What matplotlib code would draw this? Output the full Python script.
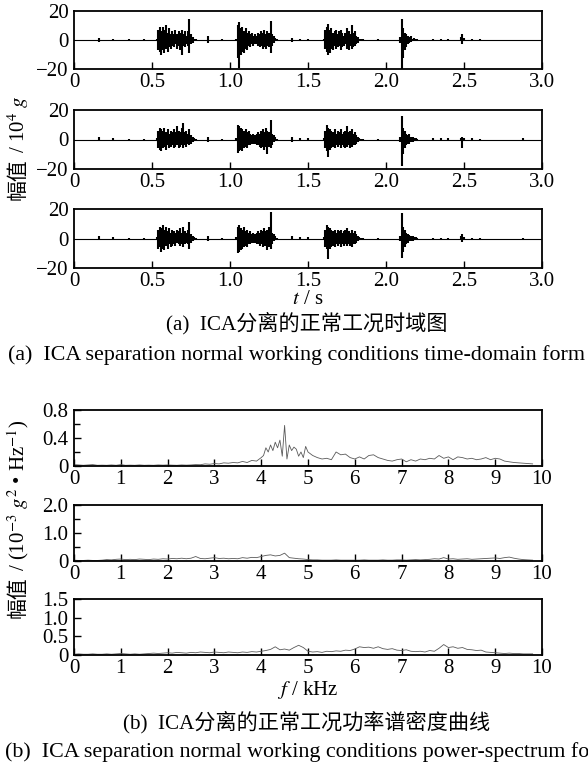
import numpy as np
import matplotlib
matplotlib.use("Agg")
import matplotlib.pyplot as plt
from matplotlib.ticker import FixedLocator

plt.rcParams['font.family'] = ['Liberation Serif', 'Noto Sans CJK SC']
plt.rcParams['mathtext.fontset'] = 'stix'
plt.rcParams['axes.unicode_minus'] = True

# ---------------- time-domain envelope data (unit: 10^4 g) ----------------
t_env = np.concatenate([
    [0.16, 0.25, 0.35, 0.45],
    np.round(np.arange(0.53, 0.785, 0.01), 2),
    [0.86, 0.95],
    np.round(np.arange(1.04, 1.305, 0.01), 2),
    [1.40, 1.45, 1.50],
    np.round(np.arange(1.60, 1.855, 0.01), 2),
    [1.95],
    np.round(np.arange(2.09, 2.205, 0.01), 2),
    [2.30, 2.35, 2.40, 2.48, 2.49, 2.50, 2.55, 2.60, 2.88],
])

ch1_up = [1.5, 0.8, 0.6, 0.5,
          1, 7, 9, 6, 9, 7, 10, 5, 8, 4, 6, 4, 7, 4, 6, 5, 7, 4, 6, 3, 6, 14, 4, 2, 1, 0.5,
          2.5, 0.8,
          1, 10, 12, 8, 9, 6, 8, 5, 6, 4, 5, 3, 4, 3, 5, 4, 6, 5, 7, 4, 6, 5, 13, 4, 3, 1.5, 0.5,
          1.5, 1, 0.8,
          1, 7, 9, 11, 7, 8, 5, 6, 7, 4, 6, 7, 5, 3, 5, 8, 6, 4, 10, 5, 6, 3, 2, 1, 0.6, 0.4,
          0.6,
          2, 14, 8, 5, 4, 3, 2, 2.5, 1, 1.5, 0.8, 0.5,
          0.5, 0.4, 0.5, 2, 4, 1.5, 0.5, 0.4, 0.3]
ch1_lo = [-1.2, -0.6, -0.5, -0.4,
          -1, -7, -8, -10, -7, -9, -6, -8, -5, -6, -4, -5, -3, -6, -4, -7, -10, -4, -5, -3, -4, -9, -3, -2, -1, -0.5,
          -2, -0.6,
          -1, -12, -19, -10, -8, -9, -6, -7, -4, -5, -3, -4, -3, -3, -4, -5, -4, -6, -5, -6, -4, -5, -9, -4, -2, -1, -0.5,
          -1.2, -0.8, -0.6,
          -1, -6, -8, -10, -9, -6, -7, -4, -6, -5, -4, -7, -5, -4, -3, -6, -7, -4, -6, -5, -4, -3, -2, -1, -0.6, -0.4,
          -0.5,
          -2, -20, -12, -7, -5, -3, -2, -1.5, -1, -1, -0.6, -0.4,
          -0.4, -0.3, -0.4, -1, -3, -1, -0.4, -0.3, -0.3]

ch2_up = [1.5, 0.8, 0.6, 0.5,
          1, 6, 8, 7, 6, 8, 5, 7, 4, 6, 5, 7, 5, 9, 6, 5, 8, 11, 5, 6, 4, 7, 3, 2, 1, 0.5,
          2, 0.6,
          1, 10, 9, 8, 7, 6, 7, 5, 6, 4, 3, 4, 3, 4, 5, 4, 6, 7, 5, 8, 6, 5, 13, 4, 3, 1.5, 0.5,
          2, 1, 0.8,
          1, 6, 10, 8, 7, 6, 5, 7, 4, 6, 5, 7, 4, 5, 6, 9, 5, 6, 7, 4, 5, 3, 2, 1, 0.6, 0.4,
          0.6,
          2, 16, 8, 6, 4, 3, 4, 2, 1.5, 1, 0.8, 0.6,
          1, 1, 1, 1.2, 2, 1, 0.8, 0.6, 0.8]
ch2_lo = [-1, -0.5, -0.5, -0.4,
          -1, -6, -7, -8, -6, -5, -7, -4, -6, -5, -4, -6, -5, -4, -6, -5, -4, -6, -4, -5, -3, -4, -3, -2, -1, -0.5,
          -1.5, -0.5,
          -1, -9, -8, -7, -8, -6, -5, -6, -4, -4, -3, -3, -3, -4, -4, -5, -6, -5, -7, -5, -10, -5, -6, -4, -2, -1, -0.5,
          -1.5, -0.8, -0.6,
          -1, -6, -8, -12, -7, -6, -5, -6, -4, -5, -4, -6, -4, -5, -6, -5, -4, -6, -5, -4, -4, -3, -2, -1, -0.6, -0.4,
          -0.5,
          -2, -18, -10, -6, -4, -3, -3, -2, -1.5, -1, -0.6, -0.5,
          -0.8, -0.8, -0.8, -1, -6, -1, -0.6, -0.5, -0.6]

ch3_up = [1.5, 0.8, 0.6, 0.5,
          1, 6, 8, 7, 9, 6, 8, 5, 7, 4, 6, 5, 4, 6, 5, 7, 4, 8, 5, 4, 6, 11, 3, 2, 1, 0.5,
          2, 0.6,
          1, 8, 9, 7, 6, 8, 5, 6, 4, 5, 3, 4, 3, 4, 5, 4, 6, 5, 7, 5, 6, 8, 18, 4, 3, 1.5, 0.5,
          1.5, 1, 0.8,
          1, 6, 9, 8, 7, 6, 5, 6, 4, 6, 5, 6, 4, 5, 6, 7, 5, 4, 6, 4, 5, 3, 2, 1, 0.6, 0.4,
          0.6,
          2, 17, 8, 6, 4, 3, 2.5, 2, 1.5, 1, 0.8, 0.6,
          0.5, 0.5, 0.6, 1.5, 3, 1, 0.5, 0.4, 0.3]
ch3_lo = [-1, -0.6, -0.5, -0.4,
          -1, -7, -6, -9, -7, -8, -5, -7, -4, -6, -5, -4, -5, -3, -4, -5, -4, -6, -4, -3, -4, -7, -3, -2, -1, -0.5,
          -1.5, -0.5,
          -1, -10, -9, -8, -7, -6, -5, -6, -4, -4, -3, -3, -3, -4, -4, -5, -4, -6, -5, -5, -8, -6, -7, -4, -2, -1, -0.5,
          -1.2, -0.8, -0.6,
          -1, -6, -7, -14, -7, -6, -5, -6, -4, -5, -4, -6, -4, -5, -4, -5, -4, -5, -6, -4, -4, -3, -2, -1, -0.6, -0.4,
          -0.5,
          -2, -13, -9, -6, -4, -3, -2, -2, -1.5, -1, -0.6, -0.5,
          -0.4, -0.4, -0.5, -1, -2.5, -1, -0.4, -0.3, -0.3]

time_ticks = [0, 0.5, 1.0, 1.5, 2.0, 2.5, 3.0]
time_ticklabels = ['0', '0.5', '1.0', '1.5', '2.0', '2.5', '3.0']
time_yticks = [-20, 0, 20]
time_yticklabels = ['\u221220', '0', '20']

# ---------------- power spectral density data (unit: 10^-3 g^2/Hz) ----------------
f1 = np.round(np.concatenate([np.arange(0, 3.95, 0.1), np.arange(4.0, 4.99, 0.05),
                              np.arange(5.0, 9.85, 0.1)]), 2)
psd1 = [0.02, 0.015, 0.01, 0.015, 0.02, 0.01, 0.012, 0.01, 0.015, 0.01,
        0.02, 0.01, 0.012, 0.01, 0.015, 0.01, 0.012, 0.01, 0.015, 0.012,
        0.015, 0.012, 0.01, 0.015, 0.012, 0.015, 0.02, 0.018, 0.03, 0.025,
        0.035, 0.03, 0.045, 0.04, 0.05, 0.045, 0.065, 0.05, 0.08, 0.07,
        0.12, 0.15, 0.26, 0.2, 0.3, 0.22, 0.34, 0.26, 0.37, 0.14,
        0.58, 0.1, 0.3, 0.22, 0.27, 0.24, 0.14, 0.2, 0.12, 0.28,
        0.2, 0.15, 0.12, 0.1, 0.11, 0.09, 0.2, 0.16, 0.17, 0.12,
        0.1, 0.13, 0.1, 0.15, 0.16, 0.12, 0.1, 0.08, 0.07, 0.09,
        0.1, 0.06, 0.09, 0.07, 0.1, 0.09, 0.11, 0.1, 0.15, 0.11,
        0.13, 0.09, 0.13, 0.12, 0.1, 0.11, 0.09, 0.1, 0.12, 0.09,
        0.11, 0.1, 0.07, 0.06, 0.05, 0.045, 0.04, 0.035, 0.03]

f23 = np.round(np.arange(0, 9.85, 0.1), 2)
psd2 = [0.03, 0.02, 0.02, 0.03, 0.02, 0.02, 0.03, 0.05, 0.04, 0.06,
        0.07, 0.05, 0.06, 0.05, 0.07, 0.06, 0.05, 0.07, 0.06, 0.08,
        0.07, 0.09, 0.08, 0.1, 0.08, 0.1, 0.16, 0.09, 0.08, 0.1,
        0.12, 0.09, 0.1, 0.08, 0.09, 0.08, 0.12, 0.1, 0.13, 0.12,
        0.16, 0.2, 0.22, 0.18, 0.2, 0.28, 0.12, 0.1, 0.08, 0.07,
        0.05, 0.04, 0.04, 0.03, 0.03, 0.03, 0.04, 0.03, 0.03, 0.03,
        0.03, 0.03, 0.04, 0.03, 0.03, 0.03, 0.04, 0.03, 0.03, 0.04,
        0.04, 0.03, 0.04, 0.05, 0.04, 0.05, 0.06, 0.08, 0.07, 0.12,
        0.07, 0.08, 0.06, 0.07, 0.08, 0.06, 0.07, 0.08, 0.09, 0.1,
        0.11, 0.09, 0.12, 0.14, 0.1, 0.07, 0.05, 0.04, 0.03]
psd3 = [0.02, 0.03, 0.02, 0.02, 0.03, 0.02, 0.02, 0.03, 0.02, 0.03,
        0.04, 0.03, 0.02, 0.03, 0.02, 0.03, 0.04, 0.05, 0.04, 0.05,
        0.06, 0.05, 0.07, 0.06, 0.05, 0.07, 0.06, 0.08, 0.07, 0.06,
        0.08, 0.07, 0.06, 0.08, 0.07, 0.06, 0.08, 0.07, 0.09, 0.08,
        0.1, 0.12, 0.15, 0.22, 0.14, 0.16, 0.13, 0.2, 0.26, 0.2,
        0.1, 0.08, 0.09, 0.07, 0.1, 0.09, 0.11, 0.1, 0.13, 0.12,
        0.16, 0.22, 0.2, 0.21, 0.18, 0.22, 0.17, 0.15, 0.17, 0.13,
        0.12, 0.14, 0.1, 0.09, 0.1, 0.08, 0.12, 0.1, 0.18, 0.28,
        0.2, 0.22, 0.18, 0.2, 0.15, 0.14, 0.12, 0.13, 0.08, 0.07,
        0.06, 0.05, 0.04, 0.05, 0.04, 0.04, 0.03, 0.03, 0.03]

freq_ticks = list(range(0, 11))
psd_ylims = [0.8, 2.0, 1.5]
psd_yticks = [[0, 0.4, 0.8], [0, 1.0, 2.0], [0, 0.5, 1.0, 1.5]]
psd_yticklabels = [['0', '0.4', '0.8'], ['0', '1.0', '2.0'], ['0', '0.5', '1.0', '1.5']]
psd_minor = [[0.2, 0.6], [0.5, 1.5], []]

# ---------------- figure ----------------
W, H = 588, 768
fig = plt.figure(figsize=(W / 100, H / 100), dpi=100)


def box(top, bottom, left=74, right=542):
    return [left / W, 1 - bottom / H, (right - left) / W, (bottom - top) / H]


def fy(y):
    return 1 - y / H


FS = 15
time_boxes = [(10.7, 69.3), (110, 169), (209, 268)]
channels = [(ch1_up, ch1_lo), (ch2_up, ch2_lo), (ch3_up, ch3_lo)]
ref_ax = None
for (top, bot), (up, lo) in zip(time_boxes, channels):
    ax = fig.add_axes(box(top, bot))
    ref_ax = ref_ax or ax
    ax.axhline(0, color='black', lw=0.8, zorder=1)
    ax.vlines(t_env, lo, up, color='black', lw=1.5, zorder=2)
    ax.set_xlim(0, 3.0)
    ax.set_ylim(-20, 20)
    ax.set_xticks(time_ticks)
    ax.set_xticklabels(time_ticklabels)
    ax.set_yticks(time_yticks)
    ax.set_yticklabels(time_yticklabels)
    ax.tick_params(axis='x', direction='in', length=5, width=1.0, labelsize=FS, pad=3)
    ax.tick_params(axis='y', direction='in', length=0, labelsize=FS, pad=4)
    for s in ax.spines.values():
        s.set_linewidth(1.3)

psd_boxes = [(410, 466), (505, 561), (599, 655)]
psd_data = [(f1, psd1), (f23, psd2), (f23, psd3)]
for i, ((top, bot), (fx, py)) in enumerate(zip(psd_boxes, psd_data)):
    ax = fig.add_axes(box(top, bot))
    ax.plot(fx, py, color='#5a5a5a', lw=0.6)
    ax.set_xlim(0, 10)
    ax.set_ylim(0, psd_ylims[i])
    ax.set_xticks(freq_ticks)
    ax.set_yticks(psd_yticks[i])
    ax.set_yticklabels(psd_yticklabels[i])
    if psd_minor[i]:
        ax.yaxis.set_minor_locator(FixedLocator(psd_minor[i]))
    ax.tick_params(axis='both', which='major', direction='in', length=5, width=1.0, labelsize=FS)
    ax.tick_params(axis='x', which='major', pad=3)
    ax.tick_params(axis='y', which='major', pad=4)
    ax.tick_params(axis='y', which='minor', direction='in', length=4, width=1.0)
    for s in ax.spines.values():
        s.set_linewidth(1.3)

# y labels: CJK part followed by the latin/math part stacked upward
YFS = 15
cjk_a = fig.text(18 / W, fy(200), '幅值', rotation=90, ha='center', va='bottom', fontsize=YFS,
                 family=['Noto Sans CJK SC'])
ref_ax.annotate('/ 10$^{4}$ $g$', xy=(0.5, 1.0), xycoords=cjk_a, xytext=(0, 4),
                textcoords='offset points', rotation=90, ha='center',
                va='bottom', fontsize=YFS, annotation_clip=False)

cjk_b = fig.text(18 / W, fy(618), '幅值', rotation=90, ha='center', va='bottom', fontsize=YFS,
                 family=['Noto Sans CJK SC'])
ref_ax.annotate('/ (10$^{-3}$ $g^{2}$ • Hz$^{-1}$)', xy=(0.5, 1.0), xycoords=cjk_b,
                xytext=(0, 4), textcoords='offset points', rotation=90,
                ha='center', va='bottom', fontsize=YFS, annotation_clip=False)

fig.text(308 / W, fy(299), '$t$ / s', ha='center', va='center', fontsize=FS)
fig.text(307 / W, fy(323), '(a)  ICA分离的正常工况时域图', ha='center', va='center', fontsize=15.2)
fig.text(8 / W, fy(355), '(a)  ICA separation normal working conditions time-domain form',
         ha='left', va='center', fontsize=15.8)

fig.text(308 / W, fy(690), '$f$ / kHz', ha='center', va='center', fontsize=FS)
fig.text(307 / W, fy(722), '(b)  ICA分离的正常工况功率谱密度曲线', ha='center', va='center', fontsize=15.2)
fig.text(5 / W, fy(752), '(b)  ICA separation normal working conditions power-spectrum form',
         ha='left', va='center', fontsize=15.8)

fig.savefig('out.png', dpi=100)
